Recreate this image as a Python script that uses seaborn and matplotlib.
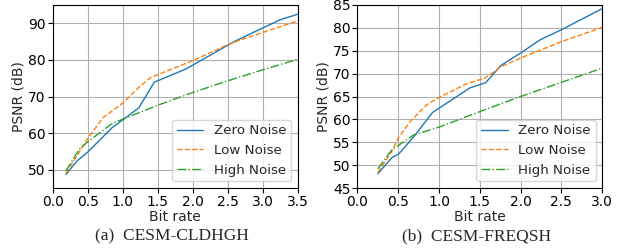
import pandas as pd
import seaborn as sns
import matplotlib.pyplot as plt

# (a) CESM-CLDHGH
a_zero_x = [0.19, 0.35, 0.5, 0.85, 1.0, 1.23, 1.45, 1.9, 2.6, 2.95, 3.25, 3.5]
a_zero_y = [48.7, 52.4, 54.8, 61.5, 63.6, 66.9, 73.9, 77.5, 85.1, 88.3, 91.0, 92.5]
a_low_x = [0.19, 0.5, 0.72, 1.0, 1.23, 1.4, 2.0, 2.55, 3.0, 3.5]
a_low_y = [49.0, 58.5, 64.2, 68.2, 72.5, 75.2, 79.8, 84.6, 87.5, 90.7]
a_high_x = [0.19, 0.38, 0.5, 0.84, 1.0, 1.5, 2.0, 2.5, 3.0, 3.5]
a_high_y = [49.6, 55.6, 57.6, 62.5, 63.8, 67.6, 71.1, 74.3, 77.3, 80.2]

# (b) CESM-FREQSH
b_zero_x = [0.25, 0.42, 0.51, 0.69, 0.92, 1.38, 1.57, 1.76, 2.0, 2.24, 2.5, 3.0]
b_zero_y = [48.1, 51.6, 52.5, 56.2, 61.5, 66.9, 68.0, 71.8, 74.5, 77.4, 79.6, 84.2]
b_low_x = [0.25, 0.42, 0.51, 0.65, 0.85, 1.0, 1.34, 1.56, 1.77, 2.0, 2.5, 3.0]
b_low_y = [48.4, 53.0, 56.2, 59.6, 63.2, 64.8, 67.8, 69.0, 71.6, 73.4, 77.0, 80.1]
b_high_x = [0.25, 0.42, 0.51, 0.69, 1.0, 1.5, 2.0, 2.5, 3.0]
b_high_y = [49.2, 53.3, 54.4, 56.6, 58.3, 61.7, 65.0, 68.1, 71.2]

labels = ["Zero Noise", "Low Noise", "High Noise"]
colors = ["#1f77b4", "#ff7f0e", "#2ca02c"]
styles = ["-", "--", "-."]

sns.set_style("ticks", {"axes.grid": True, "grid.color": "#b0b0b0",
                        "axes.edgecolor": "black", "xtick.color": "black",
                        "ytick.color": "black"})
plt.rcParams["font.family"] = ["DejaVu Sans"]
plt.rcParams["font.size"] = 10

fig = plt.figure(figsize=(6.26, 2.5), dpi=100)
ax1 = fig.add_axes([0.084, 0.248, 0.392, 0.732])
ax2 = fig.add_axes([0.571, 0.248, 0.391, 0.732])

panels = [
    (ax1, [(a_zero_x, a_zero_y), (a_low_x, a_low_y), (a_high_x, a_high_y)],
     (0, 3.5), (45, 95), [50, 60, 70, 80, 90], "(a)  CESM-CLDHGH"),
    (ax2, [(b_zero_x, b_zero_y), (b_low_x, b_low_y), (b_high_x, b_high_y)],
     (0, 3.0), (45, 85), list(range(45, 86, 5)), "(b)  CESM-FREQSH"),
]

for ax, series, xlim, ylim, yticks, caption in panels:
    for (xs, ys), lab, c, ls in zip(series, labels, colors, styles):
        df = pd.DataFrame({"rate": xs, "psnr": ys})
        sns.lineplot(data=df, x="rate", y="psnr", ax=ax, color=c,
                     linestyle=ls, linewidth=1.0, label=lab)
    ax.set_xlim(*xlim)
    ax.set_ylim(*ylim)
    ax.set_xticks([i * 0.5 for i in range(int(xlim[1] / 0.5) + 1)])
    ax.set_yticks(yticks)
    ax.set_xlabel("Bit rate", fontsize=10, labelpad=1)
    ax.set_ylabel("PSNR (dB)", fontsize=10, labelpad=1.5)
    ax.tick_params(labelsize=10, length=3.5, width=0.8, pad=1.5)
    ax.grid(True, color="#b0b0b0", linewidth=0.8)
    for s in ax.spines.values():
        s.set_linewidth(0.8)
    ax.legend(loc="lower right", fontsize=9.6, frameon=True,
              fancybox=True, framealpha=0.8, borderpad=0.35)
    pos = ax.get_position()
    fig.text((pos.x0 + pos.x1) / 2 - 0.005, 0.056, caption, ha="center",
             va="center", family="Liberation Serif", fontsize=12.5)

fig.savefig("out.png", dpi=100)
